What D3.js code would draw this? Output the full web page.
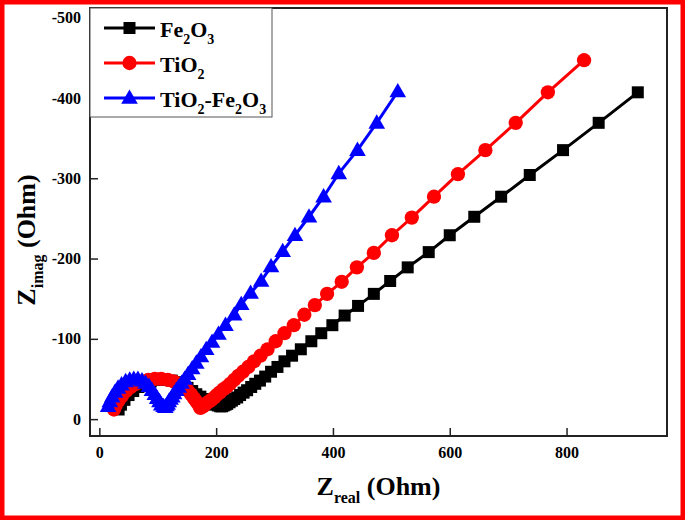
<!DOCTYPE html>
<html>
<head>
<meta charset="utf-8">
<script src="https://cdn.jsdelivr.net/npm/d3@7"></script>
<style>
  html, body { margin: 0; padding: 0; background: #fff; }
  svg { display: block; }
  text { font-family: "Liberation Serif", "Times New Roman", serif; font-weight: bold; }
</style>
</head>
<body>
<svg id="chart" width="685" height="520"></svg>
<script>
// ---- Data (Z_real, -Z_imag in Ohm), ordered high -> low frequency ----
const seriesNames = ["Fe2O3", "TiO2", "TiO2-Fe2O3"];

const fe2o3X = [33, 37, 43, 50, 58, 67, 77, 88, 100, 112, 124, 134, 143, 151, 159, 166, 173, 180, 186, 192, 198, 203, 207,
  210, 213, 216, 219, 223, 227, 231, 236, 241, 247, 253, 260, 267, 275, 284, 294, 305, 317, 330, 345, 363, 380, 399, 420, 443, 470, 498, 528, 564, 600, 642, 688, 737, 794, 855, 922];
const fe2o3Y = [12, 18, 24, 30, 35, 40, 44, 47, 49, 49, 48, 46, 43, 39, 35, 31, 28, 25, 22, 20, 18, 17, 16,
  16, 17, 18, 19, 21, 23, 25, 27, 30, 33, 36, 40, 44, 48, 53, 59, 65, 72, 79, 87, 97, 107, 117, 129, 141, 156, 172, 189, 208, 229, 252, 277, 304, 335, 369, 407];

const tio2X = [25, 28, 33, 39, 46, 54, 63, 73, 84, 95, 106, 117, 127, 136, 144, 151, 157, 162, 166, 170,
  173, 175, 178, 181, 184, 188, 192, 197, 201, 206, 212, 218, 224, 231, 238, 246, 255, 265, 276, 288, 302, 317, 333, 351, 369, 390, 415, 441, 470, 501, 535, 573, 614, 661, 713, 768, 830];
const tio2Y = [12, 17, 23, 29, 35, 40, 44, 47, 49, 50, 50, 49, 47, 44, 40, 36, 31, 26, 22, 18,
  14, 15, 16, 18, 20, 22, 24, 27, 30, 33, 37, 40, 44, 49, 54, 59, 65, 72, 79, 87, 97, 107, 117, 130, 142, 156, 171, 189, 207, 229, 251, 277, 305, 335, 369, 407, 447];

const mixX = [15, 18, 22, 27, 32, 38, 45, 52, 59, 66, 73, 79, 85, 90, 95, 99, 103, 106, 110,
  113, 115, 117, 119, 122, 125, 128, 132, 136, 141, 146, 152, 159, 166, 174, 183, 193, 204, 216, 231, 243, 259, 277, 294, 314, 335, 359, 384, 410, 442, 475, 511];
const mixY = [16, 22, 28, 34, 39, 43, 47, 49, 50, 50, 48, 45, 41, 36, 31, 26, 22, 18, 16,
  15, 17, 19, 22, 25, 28, 32, 36, 40, 45, 50, 56, 63, 70, 78, 87, 96, 106, 117, 130, 143, 157, 172, 190, 209, 229, 252, 277, 306, 335, 369, 408];

const xTicks = [0, 200, 400, 600, 800];
const yTicks = [0, 100, 200, 300, 400, 500];
const yTickLabels = ["0", "-100", "-200", "-300", "-400", "-500"];

const colors = ["#000000", "#ff0000", "#0000ff"];
const markerTypes = ["square", "circle", "triangle"];

// ---- Layout ----
const svg = d3.select("#chart");
const W = 685, H = 520;
const plot = { left: 90, right: 667, top: 8, bottom: 436 };

const x = d3.scaleLinear().domain([-16, 972]).range([plot.left, plot.right]);
const y = d3.scaleLinear().domain([-21, 512]).range([plot.bottom, plot.top]);

// red outer border
svg.append("rect")
  .attr("x", 0).attr("y", 0).attr("width", W).attr("height", H)
  .attr("fill", "none").attr("stroke", "#ff0000").attr("stroke-width", 9);

// axes
const xAxis = svg.append("g")
  .attr("transform", `translate(0,${plot.bottom})`)
  .call(d3.axisBottom(x).tickValues(xTicks).tickSizeInner(-8).tickSizeOuter(0).tickPadding(11));
const yAxis = svg.append("g")
  .attr("transform", `translate(${plot.left},0)`)
  .call(d3.axisLeft(y).tickValues(yTicks).tickSizeInner(-8).tickSizeOuter(0).tickPadding(9)
    .tickFormat((d, i) => yTickLabels[i]));
[xAxis, yAxis].forEach(g => {
  g.select(".domain").remove();
  g.selectAll(".tick line").attr("stroke", "#222").attr("stroke-width", 1.5);
  g.selectAll(".tick text")
    .attr("fill", "#000")
    .style("font-family", '"Liberation Serif", serif')
    .style("font-weight", "bold")
    .style("font-size", "16px");
});

// frame
svg.append("rect")
  .attr("x", plot.left).attr("y", plot.top)
  .attr("width", plot.right - plot.left).attr("height", plot.bottom - plot.top)
  .attr("fill", "none").attr("stroke", "#222").attr("stroke-width", 2);

// series
const allSeries = [
  { name: seriesNames[0], xs: fe2o3X, ys: fe2o3Y },
  { name: seriesNames[1], xs: tio2X, ys: tio2Y },
  { name: seriesNames[2], xs: mixX, ys: mixY }
];

const line = d3.line().x(d => x(d[0])).y(d => y(d[1]));
const symSize = { square: 144, circle: 160, triangle: 120 };
const symType = { square: d3.symbolSquare, circle: d3.symbolCircle, triangle: d3.symbolTriangle };

allSeries.forEach((s, i) => {
  const pts = s.xs.map((v, k) => [v, s.ys[k]]);
  const g = svg.append("g");
  g.append("path").datum(pts)
    .attr("d", line).attr("fill", "none")
    .attr("stroke", colors[i]).attr("stroke-width", 3);
  const sym = d3.symbol().type(symType[markerTypes[i]]).size(symSize[markerTypes[i]]);
  g.selectAll("path.m").data(pts).join("path")
    .attr("class", "m")
    .attr("d", sym)
    .attr("transform", d => `translate(${x(d[0])},${y(d[1]) + (markerTypes[i] === "triangle" ? 1 : 0)})`)
    .attr("fill", colors[i]);
});

// legend
const legend = svg.append("g");
legend.append("rect")
  .attr("x", 90).attr("y", 8).attr("width", 182).attr("height", 109)
  .attr("fill", "#fff").attr("stroke", "#555").attr("stroke-width", 1);
const legendRows = [28, 63, 98];
const legendLabels = [
  [["Fe", 0], ["2", 1], ["O", 0], ["3", 1]],
  [["TiO", 0], ["2", 1]],
  [["TiO", 0], ["2", 1], ["-Fe", 0], ["2", 1], ["O", 0], ["3", 1]]
];
legendRows.forEach((ly, i) => {
  legend.append("line")
    .attr("x1", 104).attr("x2", 155).attr("y1", ly).attr("y2", ly)
    .attr("stroke", colors[i]).attr("stroke-width", 3);
  const sym = d3.symbol().type(symType[markerTypes[i]]).size(symSize[markerTypes[i]]);
  legend.append("path").attr("d", sym)
    .attr("transform", `translate(129.5,${ly + (markerTypes[i] === "triangle" ? 1 : 0)})`)
    .attr("fill", colors[i]);
  const t = legend.append("text").attr("x", 160).attr("y", ly + 9)
    .style("font-size", "22px").attr("fill", "#000");
  let sub = false;
  legendLabels[i].forEach(([txt, isSub]) => {
    const ts = t.append("tspan").text(txt);
    if (isSub && !sub) { ts.attr("dy", 7).style("font-size", "14px"); sub = true; }
    else if (isSub && sub) { ts.style("font-size", "14px"); }
    else if (!isSub && sub) { ts.attr("dy", -7); sub = false; }
  });
});

// axis titles
const xt = svg.append("text")
  .attr("x", (plot.left + plot.right) / 2).attr("y", 495)
  .attr("text-anchor", "middle").style("font-size", "26px").attr("fill", "#000");
xt.append("tspan").text("Z");
xt.append("tspan").text("real").attr("dy", 8).style("font-size", "16px");
xt.append("tspan").text(" (Ohm)").attr("dy", -8);

const yt = svg.append("text")
  .attr("transform", "translate(35,240) rotate(-90)")
  .attr("text-anchor", "middle").style("font-size", "26px").attr("fill", "#000");
yt.append("tspan").text("Z");
yt.append("tspan").text("imag").attr("dy", 8).style("font-size", "16px");
yt.append("tspan").text(" (Ohm)").attr("dy", -8);
</script>
</body>
</html>
